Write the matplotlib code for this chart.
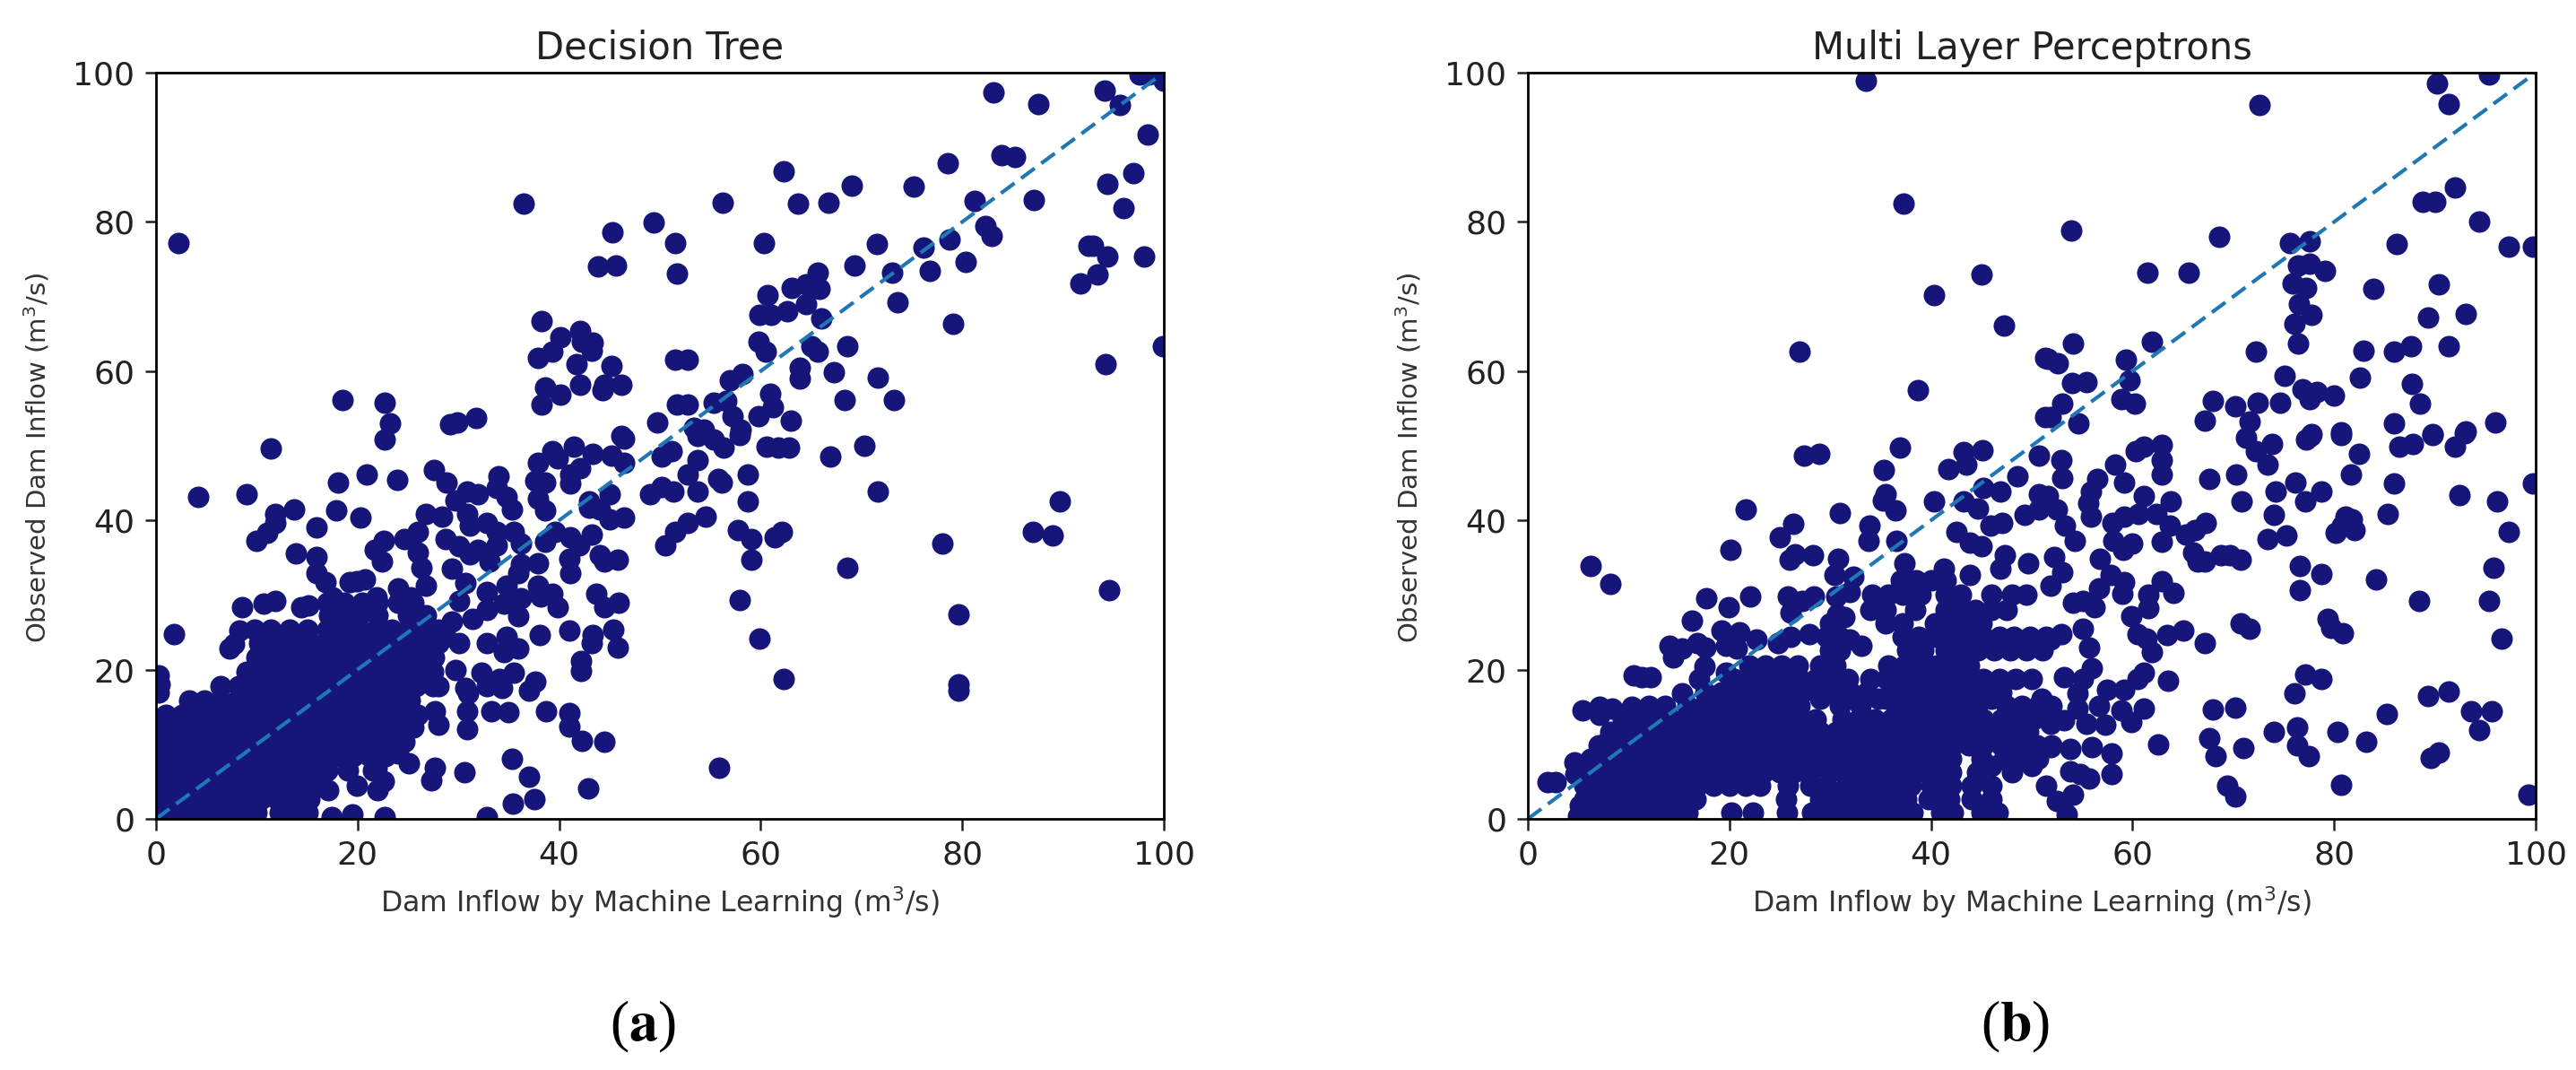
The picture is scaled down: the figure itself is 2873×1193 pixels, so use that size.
import numpy as np
import matplotlib
matplotlib.use('Agg')
import matplotlib.pyplot as plt

titles = ['Decision Tree', 'Multi Layer Perceptrons']
captions = ['a', 'b']
xlabel = 'Dam Inflow by Machine Learning (m$^3$/s)'
ylabel = 'Observed Dam Inflow (m$^3$/s)'
ticks = [0, 20, 40, 60, 80, 100]

# decision tree: points that can be read one by one (predicted, observed)
dt_points = [
    (2.2,77.2),(36.5,82.5),(45.3,78.6),(49.4,79.9),(51.5,77.2),(43.9,74.0),(45.6,74.2),(51.7,73.1),(38.3,66.7),
    (40.1,64.5),(42.1,65.4),(42.3,64.0),(43.3,63.8),(43.2,62.8),(39.3,62.6),(37.9,61.8),(41.7,60.9),(45.2,60.7),
    (51.5,61.5),(38.6,57.8),(40.1,56.9),(42.1,58.2),(44.5,58.2),(44.3,57.4),(46.2,58.2),(38.3,55.5),(51.7,55.5),
    (18.5,56.1),(22.7,55.8),(23.2,53.0),(29.2,52.9),(29.9,53.1),(31.8,53.7),(49.7,53.1),(46.2,51.3),
    (22.7,50.9),(11.4,49.6),(4.2,43.2),(9.0,43.5),(18.1,45.1),(20.9,46.1),(23.9,45.4),(27.6,46.7),(28.8,45.1),
    (34.0,45.9),(33.8,44.3),(35.3,41.5),(34.8,43.1),(30.9,43.9),(31.9,43.5),(29.7,42.7),(39.3,49.3),(37.9,47.7),
    (39.9,48.3),(37.6,45.3),(38.6,45.1),(37.9,42.9),(38.6,41.3),(41.5,49.9),(43.3,48.9),(45.2,48.7),(46.4,47.7),
    (42.1,47.0),(41.1,46.1),(41.1,44.9),(46.4,51.0),(43.0,42.5),(45.0,43.5),(44.0,41.5),(45.0,40.1),(46.4,40.4),
    (43,41.7),(50.2,48.5),(51.2,49.3),(49.0,43.5),(50.2,44.5),(51.3,43.9),(50.5,36.7),(51.5,38.5),
    (11.8,40.9),(13.7,41.5),(11.8,39.7),(11,38.3),(10,37.2),(17.9,41.3),(20.3,40.4),(15.9,39.1),(13.9,35.6),(15.9,35.1),
    (26.8,40.9),(28.4,40.5),(26,38.5),(24.6,37.5),(22.6,37.3),(21.7,36.1),(22.4,34.5),(26,35.7),(26.3,33.7),(26.8,31.3),
    (24,30.9),(25.3,29.7),(30.9,40.9),(31.1,39.3),(32.8,39.7),(33.8,38.5),(28.7,37.5),(30.1,36.5),(31.1,35.5),(31.9,36.1),
    (35.5,38.5),(33.8,36.7),(33.1,34.5),(36.2,36.9),(29.4,33.5),(39.6,38.5),(38.6,37.1),(41.1,37.7),(43.2,38.1),(42,36.7),
    (41,34.9),(41.1,32.9),(44,35.3),(44.5,34.5),(45.8,34.7),(37.9,34.3),(36.2,34.1),(15.9,32.9),(16.8,31.7),(19.2,31.7),
    (20.7,32.1),(19.9,31.9),(21.9,29.7),(17.5,29.7),(8.5,28.4),(10.7,28.8),(11.8,29.2),(14.4,28.4),(15.1,28.6),(1.8,24.7),
    (8.3,25.3),(7.7,23.4),(7.3,22.8),(37.9,31.3),(39.3,30.2),(39.9,28.4),(38.2,29.8),(43.7,30.2),(44.5,28.4),(45.9,29),
    (41,25.3),(43.3,24.6),(45.4,25.4),(43.2,23.6),(45.8,23),(42.2,21.2),(42.2,19.8),(38.1,24.6),
    (30.7,31.6),(30.1,29.2),(32.8,30.4),(34.8,31.3),(35.9,32.9),(36.2,29.6),(35.9,27.2),(32.8,28),(34.5,28.8),(31.4,26.8),
    (29.4,26.4),(28.7,24.4),(30.1,23.6),(32.8,23.6),(34.8,24.4),(34.5,22.4),(35.9,22.8),(29.7,20),(32.3,19.6),(34.1,18.8),
    (35.5,19.6),(30.7,17.6),(32.8,17.8),(34.3,17.6),(37.6,18.4),(37,17.2),(27.7,14.4),(28,12.6),(31,16.8),(30.9,14.4),
    (30.9,12),(33.3,14.4),(35,14.3),(38.7,14.4),(41,14.2),(41,12.4),(42.3,10.5),(44.5,10.3),(35.3,8.1),(37,5.7),(42.9,4.1),
    (37.5,2.7),(35.4,2.1),(30.6,6.3),(27.7,6.8),(27.3,5.2),(25.1,7.4),(24,8.8),(32.8,0.2),(22.7,0.2),(19.5,0.6),(17.4,0.2),
    (19.9,4.4),(17.1,3.8),(22,3.8),(22.6,5),(21.9,6.8),(0.3,19.2),(0.4,18),(0.3,17),
    (83.1,97.4),(87.5,95.8),(94.1,97.6),(95.6,95.7),(97.6,99.7),(98.5,99.7),(100,98.9),(98.4,91.7),(97,86.5),(94.4,85.1),
    (96,81.9),(83.9,88.9),(85.2,88.7),(78.6,87.9),(75.2,84.7),(69,84.9),(66.7,82.6),(63.7,82.5),(62.3,86.8),(56.2,82.6),
    (60.3,77.2),(81.2,82.8),(87.1,82.9),(71.5,77),(76.2,76.6),(78.7,77.6),(82.3,79.4),(82.9,78.1),(69.3,74.2),(73,73.2),
    (76.8,73.4),(80.3,74.6),(73.6,69.2),(79.1,66.4),(65.7,73.2),(63.1,71.2),(64.5,71.6),(65.8,71),(60.7,70.2),(64.5,69),
    (62.6,68),(59.9,67.6),(61,67.6),(66,67.1),(59.8,64),(60.5,62.6),(65,63.4),(65.7,62.6),(68.6,63.4),(63.9,60.4),(63.9,59),
    (67.3,59.9),(71.6,59.1),(52.8,61.5),(58.2,59.6),(56.9,58.8),(60.9,57),(61.2,55.2),(59.8,54),(63,53.4),(68.3,56.1),
    (73.2,56.1),(52.8,55.5),(55.3,55.8),(56.6,56),(57.2,54),(58,52.2),(53.4,52.4),(54.4,52.2),(92.5,76.8),(93,76.8),
    (94.4,75.4),(98,75.4),(93.4,72.9),(91.7,71.8),(99.9,63.4),(94.2,60.9),
    (53.7,51.3),(55.3,50.9),(57.9,51.5),(56.3,49.7),(53.7,48.1),(52.8,46.1),(60.6,49.9),(61.7,49.7),(62.8,49.7),(66.9,48.6),
    (70.3,50),(58.7,46.1),(55.8,45.5),(56.1,45.1),(53.7,43.9),(71.6,43.9),(58.7,42.6),(54.5,40.5),(52.8,39.7),(57.7,38.7),
    (59.1,37.5),(61.4,37.7),(62.1,38.5),(59.1,34.7),(68.6,33.7),(78,36.9),(87,38.5),(89,38),(89.7,42.6),(94.6,30.6),
    (79.6,27.4),(57.9,29.3),(59.9,24.2),(62.3,18.7),(79.6,18),(79.6,17.2),(55.9,6.8),
]

# decision tree: the solid mass near the origin, read row by row (observed: predicted values)
dt_mass = {
    0.8: [0.5,2,3.6,5.2,6.8,8.5,10,12.3,14,15],
    2.6: [0.8,2.4,4,5.7,7.3,8.9,10.4,12,13.6,15.2],
    4.6: [0.4,1.9,3.5,5.1,6.7,8.2,9.9,11.5,13.1,14.8,16],
    6.5: [1,2.6,4.2,5.8,7.4,9,10.6,12.2,13.8,15.4,17,19,21.5],
    8.4: [0.4,2,3.5,5.1,6.8,8.3,10,11.6,13.2,14.8,16.4,18,19.6,21.2,22.8],
    10.3: [1,2.7,4.3,5.9,7.5,9.1,10.7,12.3,13.9,15.5,17.1,18.7,20.3,21.9,23.4,24.6],
    12.2: [0.5,2.1,3.7,5.3,6.9,8.5,10.1,11.7,13.3,14.9,16.5,18.1,19.7,21.3,22.9,24.5,25.5],
    14: [1,2.6,4.2,5.8,7.4,9,10.6,12.2,13.8,15.4,17,18.6,20.2,21.8,23.4,25,26],
    15.9: [3.3,4.8,6.4,8,9.6,11.2,12.8,14.4,16,17.6,19.2,20.8,22.4,24,25.2],
    17.8: [6.4,8.2,9.8,11.4,13,14.6,16.2,17.8,19.4,21,22.6,24.2,25.8,27.5,28],
    19.7: [9,10.6,12.2,13.8,15.4,17,18.6,20.2,21.8,23.4,25,26.6,27.5],
    21.6: [10,11.6,13.2,14.8,16.4,18,19.6,21.2,22.8,24.4,26,27.6],
    23.5: [10.2,11.8,13.8,15.4,17,18.6,20.2,21.8,23.4,25,26.6,28],
    25.4: [9.8,11.4,13.3,15,17,18.6,20.2,21.8,23.4,25,26.6,28],
    27.3: [17.2,18.6,20.2,22,25,26.8],
    29: [17,18.7,20.5,22,24,25.5],
}

# multi layer perceptrons: separate points
mlp_points = [
    (33.5,98.9),(37.3,82.5),(45,72.9),(40.3,70.2),(47.2,66.1),(27,62.6),(51.3,61.8),(38.7,57.4),(51.3,53.8),
    (27.4,48.7),(28.9,48.9),(36.9,49.7),(35.3,46.8),(43.2,49.1),(45.1,49.4),(43.5,47.5),(41.7,46.9),(48.6,45.9),(50.7,48.7),
    (21.6,41.5),(35.5,43.5),(35.2,42.7),(36.5,41.3),(31,41),(40.3,42.6),(43.2,42.6),(44.7,41.6),(45.2,44.3),(46.9,43.9),
    (26.3,39.6),(25,37.7),(20.1,36.1),(33.9,39.3),(33.8,37.2),(36.6,37.2),(26.5,35.5),(26,34.7),(28.3,35.3),(30.8,34.8),
    (49.3,40.7),(50.7,41.5),(50.7,43.5),(42.5,38.5),(43.9,37),(45,36.5),(45.9,39.3),(47.1,39.7),(47.3,35.3),(46.9,33.5),
    (43.9,32.7),(37.4,34.3),(41.3,33.5),(49.6,34.3),(6.2,33.9),(8.2,31.5),(17.7,29.6),(19.9,28.4),(22.1,29.8),(25.8,29.8),
    (28.4,29.8),(27.2,29.2),(16.3,26.6),(26.1,27.6),(30.4,32.7),(32.3,32.5),(31.9,30.4),(30.6,29.8),(30.7,27.4),(31.4,27),
    (14.1,23.2),(14.4,21.6),(15.3,22.8),(16.8,23.6),(17.6,23),(19.2,25.2),(21,25),(19.7,23.2),(20.7,22.8),(22.7,24),
    (24.8,23.6),(26.1,24.4),(27.9,24.8),(29.9,24.8),(33.1,23.2),(31.9,24),(17.5,20.4),(17,18.8),(19.7,19.6),(10.5,19.2),
    (11.3,19),(12.2,19),(15.3,16.8),(5.4,14.6),(7.1,15),(7.1,14),(8.4,14.8),(10.3,15),(12,15),(13.6,14.8),(8.6,11.6),
    (8.1,10.8),(7.1,9.4),(7.1,8.4),(4.6,7.6),(2,4.9),(2.8,4.9),(4.7,6),(5.9,6.8),(5.2,1.8),(5,0.4),
    (72.6,95.7),(90.2,98.5),(95.4,99.7),(91.4,95.8),(92,84.6),(88.8,82.7),(90,82.7),(94.4,80),(53.9,78.8),(68.6,78),
    (75.6,77.2),(77.6,77.4),(86.2,77),(97.3,76.7),(99.7,76.7),(61.5,73.2),(65.6,73.2),(76.4,74.2),(77.6,74.4),(79.1,73.4),
    (75.9,71.7),(77.2,71.2),(83.9,71),(90.4,71.6),(76.5,69),(77.8,67.5),(76.1,66.4),(89.3,67.2),(93.1,67.7),(61.9,63.9),
    (54.1,63.7),(76.4,63.7),(72.2,62.6),(82.9,62.8),(85.9,62.6),(87.6,63.4),(91.4,63.4),(51.6,61.6),(52.6,61),(59.3,61.5),
    (59.7,58.8),(54,58.4),(55.4,58.5),(58.9,56.2),(60.2,55.6),(53,55.6),(51.9,53.8),(54.6,53),(75.1,59.4),(82.6,59.1),
    (87.7,58.3),(76.9,57.6),(78.3,57.2),(80,56.7),(77.6,56.2),(68,56),(70.2,55.3),(72.4,55.8),(74.6,55.8),(88.5,55.6),
    (67.2,53.4),(71.6,53.2),(85.9,53),(96,53.1),(77.8,51.6),(80.7,51.8),(89.8,51.6),(93.1,51.9),
    (71.3,51.1),(73.8,50.3),(72.2,49.3),(73.4,47.5),(77.7,51.3),(77.2,50.9),(80.7,51.5),(89.8,51.5),(93,51.7),(86.5,49.9),
    (87.8,50.3),(92,49.9),(82.5,48.9),(81.7,46.1),(85.9,45),(92.4,43.4),(99.7,45),(96.2,42.6),(97.3,38.5),(85.3,40.9),
    (76.2,45.1),(74.2,43.9),(78.7,43.9),(77.1,42.6),(74,40.7),(73.4,37.5),(75.3,38),(70.3,46.1),(67.6,45.6),(70.8,42.6),
    (81.1,40.5),(81.8,40.1),(82,38.7),(80.2,38.3),(80.8,39.3),(76.6,33.9),(78.7,32.8),(76.6,30.6),(84.2,32.1),(95.8,33.7),
    (88.4,29.2),(95.4,29.2),(96.6,24.2),(70.7,26.2),(71.6,25.5),(79.4,26.8),(79.7,25.6),(80.9,24.9),(77.1,19.3),(78.7,18.7),
    (76.1,16.8),(89.3,16.5),(91.4,17.1),(85.2,14.1),(93.6,14.4),(95.6,14.4),(94.4,11.9),(68,14.7),(70.2,14.9),(67.6,10.8),
    (71,9.5),(68.2,8.4),(74,11.7),(76.3,12.2),(76.3,9.8),(77.5,8.4),(80.3,11.7),(83.2,10.3),(90.4,8.9),(89.6,8.2),(80.7,4.6),
    (69.4,4.4),(70.2,3),(99.3,3.2),(67.2,23.6),(65,25.2),(63.4,24.6),(61.9,22.4),(61.4,24.2),(60.5,24.8),(59.9,27.2),
    (61.6,28.2),(61.6,30),(62.9,31.9),(64.1,30.3),(59.2,31.7),(59,30.2),(56.7,30.9),(56.2,28.4),(55.1,29.2),(54.1,29),
    (57.8,32.7),(62.9,37.1),(60,36.9),(59.1,36.1),(58.1,37.3),(56.8,34.9),(54.3,37.3),(53.3,39.3),(52.5,41.5),(51.6,43.3),
    (55.9,40.5),(55.6,42.3),(56.5,45.5),(55.9,43.9),(58.3,47.5),(59.2,45.1),(61.1,43.3),(63.8,42.6),(62.4,40.9),(60.6,40.9),
    (59.2,40.5),(58,39.7),(63.7,39.3),(60.3,49.3),(61.1,49.9),(62.9,50.1),(62.9,48.1),(62.9,46.1),(52.9,48.1),(53,45.7),
    (67.3,39.7),(66.2,38.7),(65.3,38.1),(66,35.7),(66.5,34.5),(67.2,34.5),(68.8,35.3),(69.7,35.3),(70.7,34.7),(52.2,35.1),
    (53,33.1),(51.9,31.3),(55.1,25.5),(55.7,23),(52.9,24.8),(51.9,24),(63.5,18.5),(61.1,19.6),(60.5,18.8),(53.2,19),(56,20.2),
    (55.1,18.8),(59.2,17.3),(57.5,17.3),(61.1,14.8),(58.9,14.6),(59.9,13),(57.3,12.6),(56.7,15.2),(54.5,16.8),(54.5,14.8),
    (55.4,12.8),(53.2,13.2),(51.9,12.8),(62.5,10),(57.9,8.8),(57.9,6),(56,9.6),(53.8,9.4),(51.9,9.6),(54.8,6),(55.7,5.4),
    (53.8,6.4),(54.1,3.2),(52.5,2.4),(53.5,0.6),(51.4,4.4),
]

# multi layer perceptrons: the dense band along the bottom, row by row
mlp_mass = {
    0.8: [6.5,8,9.6,11.2,12.8,14.4,15.8,20.2,22.3,25.7,28.2,30,31.6,33.2,35,36.6,38.2,41,42.2,45,46.6],
    2.6: [5.6,7.2,8.8,10.4,12,13.6,15.2,16.6,25.6,29,30.6,32.2,33.8,36,37.5,39.8,41.8,44,46],
    3.5: [31,35,41],
    4.4: [5.6,7.2,8.8,10.4,12,13.6,15.2,16.8,18.4,20,21.6,23,25.8,28,29.6,31.6,33.2,34.8,36.4,38,40,42,44,46],
    6.2: [5.8,7.4,9,10.6,12.2,13.8,15.4,17,18.6,20.2,21.8,23.4,25,26.4,28,30,31.6,33.2,35,37,38.6,40.6,42,44.6,48],
    7.1: [27,29,32,34,36,38,39.8,41.2,46,50],
    8: [6.2,7.8,9.4,11,12.6,14.2,15.8,17.4,19,20.6,22.2,23.8,25.4,27.4,29,30.6,32.2,33.8,35.4,37,38.8,40.4,42,45,47.2,49,50.6],
    9.8: [7,8.6,10.2,11.8,13.4,15,16.6,18.2,19.8,21.4,23,24.6,26.2,27.8,29.4,31,32.6,34.2,35.8,37.4,39,40.6,42.2,43.8,45.2,47,48.6,50.5,52],
    10.7: [28.6,30.2,33,36.6,39.8,43,46.2,49],
    11.6: [8.2,9.8,11.4,13,14.6,16.2,17.8,19.4,21,22.6,24.2,25.8,27.4,29,30.6,32.2,33.8,35.4,37,38.6,40.2,41.8,43.4,45,46.6,48,49.6],
    13.4: [9.4,11,12.6,14.2,15.8,17.4,19,20.6,22.2,23.8,25.4,27,28.6,31.2,32.8,34.4,36,37.6,39.2,40.8,42.4,44,45.2,47,48.6,50.2,51.8],
    15.2: [12,13.6,15.8,17.4,19,20.6,22.2,23.8,25.4,27,31,33,36.6,38.2,39.8,41.4,43,44.6,47.5,49,50.6,52],
    16.1: [29,34.8,35.6,46,51],
    17: [17.6,19.2,20.8,22.4,24,25.6,27.2,28.8,30.4,32,33.6,36,37.6,39.2,40.8,42.4,44,45.6,47],
    18.8: [20.5,22.1,23.7,25.3,27,28.6,30.2,31.8,34,35.6,37.2,38.8,40.4,42,43.6,45.2,46.8,48.4,50],
    20.6: [22,23.6,25.2,26.8,29,30.5,35.8,37.4,39,40.6,42.2,43.8],
    22.6: [30,31,37.6,39.2,41.5,43.1,44.7,46.3,47.9,49.5,51.1],
    24.4: [29.6,31,37.2,38.8,40.5,42,43.6,45.2,46.8,48.2,49.8,51.4],
    26.2: [30,35.5,37.2,40.4,42.2,44,45],
    28: [34,35.5,38.4,41.5,43,44.4,46,47.5],
    30: [34.2,35.8,37.2,39,41.5,43,46,48,49.5],
    32: [37,38.5,40,41.5],
}


def scatter_panel(ax, points, mass, title):
    rows = [(x, y) for y, xs in mass.items() for x in xs]
    pts = np.array(points + rows)
    ax.scatter(pts[:, 0], pts[:, 1], s=300, color='#16167a', linewidths=0, zorder=2)
    ax.plot([0, 100], [0, 100], '--', color='#1f77b4', lw=3, dashes=(4.5, 2.2), zorder=3)
    ax.set_xlim(0, 100)
    ax.set_ylim(0, 100)
    ax.set_xticks(ticks)
    ax.set_yticks(ticks)
    ax.tick_params(labelsize=26, length=9, width=1.8, pad=8, colors='#222222')
    for s in ax.spines.values():
        s.set_linewidth(2)
        s.set_zorder(5)
    ax.set_title(title, fontsize=30, pad=11, color='#222222')
    ax.set_xlabel(xlabel, fontsize=22.7, labelpad=11, color='#333333')
    ax.set_ylabel(ylabel, fontsize=21, labelpad=17, y=0.484, color='#333333')


W, H = 2873, 1193
fig = plt.figure(figsize=(W / 100, H / 100), dpi=100)
ax1 = fig.add_axes([174 / W, 1 - 913 / H, 1124 / W, 832 / H])
ax2 = fig.add_axes([1704 / W, 1 - 913 / H, 1124 / W, 832 / H])
scatter_panel(ax1, dt_points, dt_mass, titles[0])
scatter_panel(ax2, mlp_points, mlp_mass, titles[1])

for cx, c in zip([717 / W, 2248 / W], captions):
    fig.text(cx, 1 - 1145 / H, '($\\mathbf{' + c + '}$)', ha='center', va='center', fontsize=46,
             family='Liberation Serif', math_fontfamily='stix', color='black')

fig.savefig('out.png', dpi=100)
